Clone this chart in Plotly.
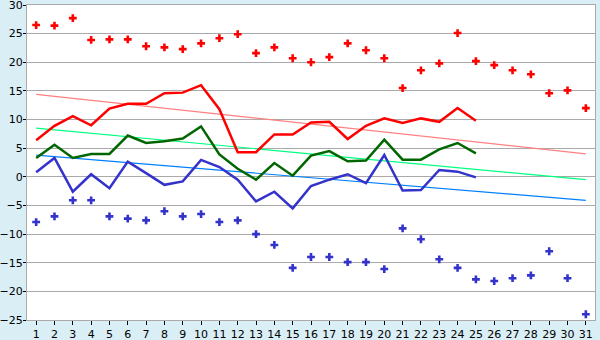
import plotly.graph_objects as go

days = list(range(1, 32))
line_days = list(range(1, 26))

max_points = [26.5, 26.4, 27.7, 23.9, 24.0, 24.0, 22.8, 22.6, 22.3, 23.3,
              24.2, 24.9, 21.6, 22.6, 20.7, 20.0, 20.9, 23.3, 22.1, 20.7,
              15.5, 18.6, 19.8, 25.1, 20.2, 19.5, 18.6, 17.9, 14.6, 15.1, 12.0]
min_points = [-7.9, -6.9, -4.1, -4.1, -6.9, -7.3, -7.6, -6.0, -6.9, -6.5,
              -7.9, -7.6, -10.0, -11.9, -15.9, -14.0, -14.0, -14.9, -14.9, -16.1,
              -9.0, -10.9, -14.4, -15.9, -17.9, -18.2, -17.7, -17.2, -13.0, -17.7, -24.0]
red_line = [6.4, 8.9, 10.6, 9.0, 11.9, 12.75, 12.75, 14.6, 14.7, 16.0,
            11.8, 4.3, 4.3, 7.4, 7.4, 9.5, 9.6, 6.6, 8.9, 10.2,
            9.4, 10.2, 9.6, 12.0, 9.8]
green_line = [3.3, 5.6, 3.3, 4.0, 4.0, 7.2, 5.9, 6.2, 6.7, 8.8,
              3.9, 1.4, -0.5, 2.4, 0.2, 3.7, 4.5, 2.7, 2.85, 6.5,
              3.0, 3.0, 4.8, 5.9, 4.1]
blue_line = [0.8, 3.3, -2.6, 0.45, -2.0, 2.65, 0.65, -1.4, -0.8, 2.95,
             1.7, -0.5, -4.3, -2.6, -5.5, -1.6, -0.5, 0.45, -1.1, 3.8,
             -2.4, -2.3, 1.2, 0.9, -0.1]
trend_days = [1, 31]
red_trend = [14.4, 4.0]
green_trend = [8.5, -0.5]
blue_trend = [3.8, -4.1]

fig = go.Figure()
fig.add_trace(go.Scatter(x=trend_days, y=red_trend, mode="lines",
                         line=dict(color="#ff8080", width=1.2)))
fig.add_trace(go.Scatter(x=trend_days, y=green_trend, mode="lines",
                         line=dict(color="#00ff80", width=1.2)))
fig.add_trace(go.Scatter(x=trend_days, y=blue_trend, mode="lines",
                         line=dict(color="#0080ff", width=1.2)))
fig.add_trace(go.Scatter(x=line_days, y=red_line, mode="lines",
                         line=dict(color="#ff0000", width=2.5)))
fig.add_trace(go.Scatter(x=line_days, y=green_line, mode="lines",
                         line=dict(color="#006600", width=2.5)))
fig.add_trace(go.Scatter(x=line_days, y=blue_line, mode="lines",
                         line=dict(color="#3333cc", width=2.5)))
fig.add_trace(go.Scatter(x=days, y=max_points, mode="markers",
                         marker=dict(color="#ff0000", symbol="cross", size=6.5)))
fig.add_trace(go.Scatter(x=days, y=min_points, mode="markers",
                         marker=dict(color="#3333cc", symbol="cross", size=6.5)))

fig.update_layout(
    width=600, height=340,
    margin=dict(l=27, r=5, t=5, b=20),
    paper_bgcolor="#daeef5",
    plot_bgcolor="#ffffff",
    showlegend=False,
    font=dict(family="DejaVu Sans", size=11, color="#000000"),
)
fig.update_xaxes(
    range=[0.5, 31.5], tickmode="array", tickvals=days,
    ticktext=[str(d) for d in days],
    showgrid=False, zeroline=False, automargin=False,
    showline=True, linecolor="#aaaaaa", linewidth=1, mirror=True,
    ticks="outside", ticklen=4, tickcolor="#000000", tickwidth=1,
    ticklabeloverflow="allow",
)
fig.update_yaxes(
    range=[-25, 30], tickmode="array", tickvals=list(range(-25, 31, 5)),
    showgrid=True, gridcolor="#aaaaaa", gridwidth=1, zeroline=False, automargin=False,
    showline=True, linecolor="#aaaaaa", linewidth=1, mirror=True,
    ticks="outside", ticklen=3, tickcolor="#000000", tickwidth=1,
    ticklabeloverflow="allow", ticklabelstandoff=-2,
)

fig.write_html("out.html")
